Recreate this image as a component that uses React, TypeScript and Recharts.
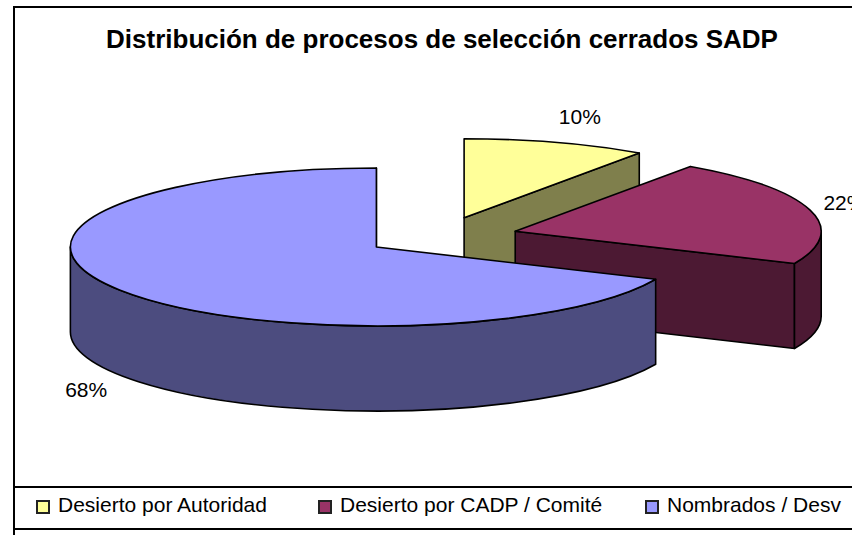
import { PieChart, Pie, Legend } from "recharts";

const categories = ["Desierto por Autoridad", "Desierto por CADP / Comité", "Nombrados / Desv"];
const shares = [9.7, 22, 68.3];
const topColors = ["#FFFF99", "#993366", "#9999FF"];
const wallColors = ["#7F7F4C", "#4C1933", "#4C4C7F"];

const data = categories.map((name, i) => ({
  name,
  value: shares[i],
  fill: topColors[i],
  wall: wallColors[i],
}));

const FONT = "'Liberation Sans', Arial, sans-serif";
const RADIUS = 306;
const SQUASH = 79 / 306;
const DEPTH = 85;
const EXPLODE_X = 77;
const EXPLODE_Y = 19.5;
const LABEL_NUDGE = [12, -4, 0];

const rad = (deg: number) => (deg * Math.PI) / 180;

function sliceCenter(cx: number, cy: number, midAngle: number) {
  return {
    x: cx + EXPLODE_X * Math.cos(rad(midAngle)),
    y: cy - EXPLODE_Y * Math.sin(rad(midAngle)),
  };
}

function Slice3D(props: any) {
  const { cx, cy, outerRadius, startAngle, endAngle, midAngle, fill, payload } = props;
  const c = sliceCenter(cx, cy, midAngle);
  const rx = outerRadius;
  const ry = outerRadius * SQUASH;
  const pt = (a: number, dy = 0) => ({
    x: c.x + rx * Math.cos(rad(a)),
    y: c.y - ry * Math.sin(rad(a)) + dy,
  });
  const s = pt(startAngle);
  const e = pt(endAngle);
  const large = startAngle - endAngle > 180 ? 1 : 0;
  const top = `M${c.x},${c.y} L${s.x},${s.y} A${rx},${ry} 0 ${large} 1 ${e.x},${e.y} Z`;
  const cut = `M${c.x},${c.y} L${e.x},${e.y} L${e.x},${e.y + DEPTH} L${c.x},${c.y + DEPTH} Z`;

  // only the lower half of the rim faces the viewer
  const a1 = Math.min(startAngle, 0);
  const a2 = Math.max(endAngle, -180);
  let rim = "";
  if (a1 > a2) {
    const p1 = pt(a1);
    const p2 = pt(a2);
    const p3 = pt(a2, DEPTH);
    const p4 = pt(a1, DEPTH);
    rim = `M${p1.x},${p1.y} A${rx},${ry} 0 0 1 ${p2.x},${p2.y} L${p3.x},${p3.y} A${rx},${ry} 0 0 0 ${p4.x},${p4.y} Z`;
  }
  const line = { stroke: "#000", strokeWidth: 1.6, strokeLinejoin: "round" as const };
  return (
    <g>
      <path d={cut} fill={payload.wall} {...line} />
      {rim && <path d={rim} fill={payload.wall} {...line} />}
      <path d={top} fill={fill} {...line} />
    </g>
  );
}

function renderLabel(props: any) {
  const { cx, cy, midAngle, percent, index } = props;
  const c = sliceCenter(cx, cy, midAngle);
  const x = c.x + RADIUS * 1.13 * Math.cos(rad(midAngle)) + LABEL_NUDGE[index];
  const sin = Math.sin(rad(midAngle));
  const y = c.y - RADIUS * SQUASH * 1.34 * sin + (sin < 0 ? DEPTH : 0);
  return (
    <text x={x} y={y} textAnchor="middle" dominantBaseline="central" fontSize={21} fontFamily={FONT} fill="#000">
      {Math.round(percent * 100)}%
    </text>
  );
}

const legendX = [36, 318, 645];

function LegendRow({ payload }: any) {
  return (
    <div style={{ position: "relative", height: 40, fontFamily: FONT, fontSize: 21, color: "#000" }}>
      {(payload || []).map((item: any, i: number) => (
        <div key={item.value} style={{ position: "absolute", left: legendX[i] - 13, top: -3, height: 40, display: "flex", alignItems: "center", whiteSpace: "nowrap" }}>
          <span style={{ display: "inline-block", width: 10, height: 10, marginRight: 8, marginTop: 4, background: item.color, border: "2px solid #222", boxSizing: "content-box" }} />
          {item.value}
        </div>
      ))}
    </div>
  );
}

export default function App() {
  return (
    <div style={{ position: "absolute", left: 0, top: 0, width: 852, height: 535, overflow: "hidden", background: "#fff" }}>
      <div style={{ position: "absolute", left: 13, top: 6, width: 860, height: 540, borderLeft: "2px solid #000", borderTop: "2px solid #000" }} />
      <PieChart width={852} height={535} margin={{ top: 0, right: 0, bottom: 0, left: 0 }} style={{ position: "absolute", left: 0, top: 0 }}>
        <text x={442} y={47.5} textAnchor="middle" fontSize={26} fontWeight="bold" fontFamily={FONT} fill="#000">
          Distribución de procesos de selección cerrados SADP
        </text>
        <Pie
          data={data}
          dataKey="value"
          nameKey="name"
          cx={441}
          cy={236.4}
          outerRadius={RADIUS}
          startAngle={90}
          endAngle={-270}
          paddingAngle={0}
          stroke="none"
          shape={Slice3D}
          label={renderLabel}
          labelLine={false}
          isAnimationActive={false}
        />
        <Legend
          content={LegendRow}
          wrapperStyle={{ position: "absolute", left: 13, top: 486, bottom: "auto", width: 860, height: 40, borderTop: "2px solid #000", borderBottom: "2px solid #000" }}
        />
      </PieChart>
    </div>
  );
}
